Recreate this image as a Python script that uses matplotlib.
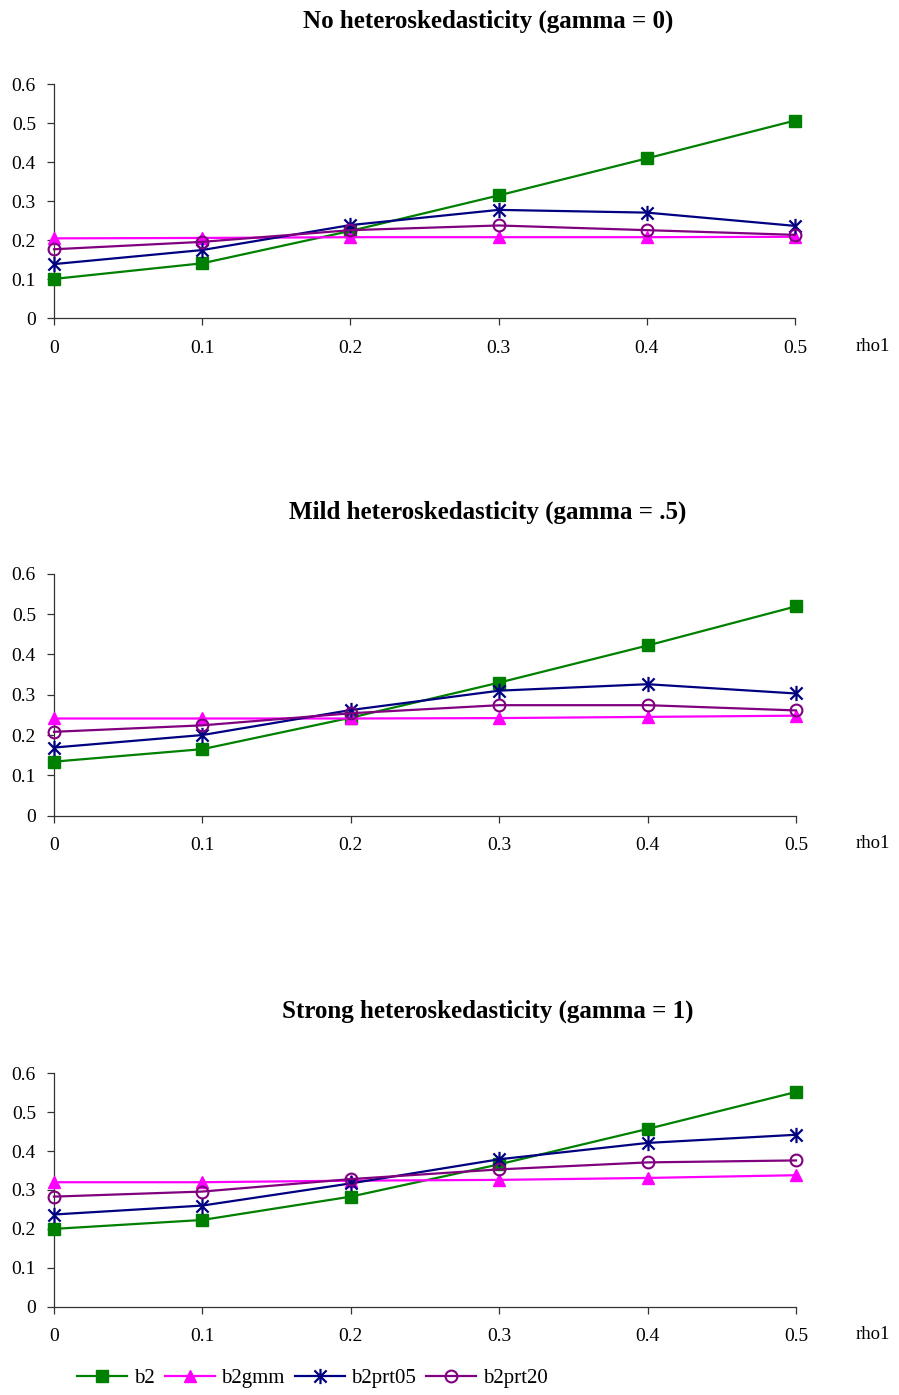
import matplotlib
matplotlib.use("Agg")
import matplotlib.pyplot as plt
from matplotlib.path import Path

plt.rcParams['font.family'] = ['Liberation Serif', 'DejaVu Serif']

rho1 = [0.0, 0.1, 0.2, 0.3, 0.4, 0.5]
x_ticks = [0, 0.1, 0.2, 0.3, 0.4, 0.5]
x_tick_labels = ['0', '0.1', '0.2', '0.3', '0.4', '0.5']
y_ticks = [0, 0.1, 0.2, 0.3, 0.4, 0.5, 0.6]
y_tick_labels = ['0', '0.1', '0.2', '0.3', '0.4', '0.5', '0.6']

titles = ['No heteroskedasticity (gamma = 0)',
          'Mild heteroskedasticity (gamma = .5)',
          'Strong heteroskedasticity (gamma = 1)']

series_names = ['b2', 'b2gmm', 'b2prt05', 'b2prt20']

# gamma = 0
b2_g0 = [0.101, 0.141, 0.224, 0.315, 0.410, 0.507]
b2gmm_g0 = [0.205, 0.206, 0.208, 0.208, 0.208, 0.209]
b2prt05_g0 = [0.139, 0.175, 0.239, 0.278, 0.271, 0.237]
b2prt20_g0 = [0.177, 0.196, 0.226, 0.238, 0.226, 0.214]

# gamma = .5
b2_g05 = [0.134, 0.165, 0.243, 0.330, 0.422, 0.519]
b2gmm_g05 = [0.241, 0.241, 0.241, 0.242, 0.245, 0.248]
b2prt05_g05 = [0.169, 0.200, 0.262, 0.310, 0.326, 0.303]
b2prt20_g05 = [0.208, 0.224, 0.254, 0.274, 0.274, 0.261]

# gamma = 1
b2_g1 = [0.200, 0.223, 0.283, 0.366, 0.457, 0.552]
b2gmm_g1 = [0.320, 0.320, 0.324, 0.326, 0.331, 0.338]
b2prt05_g1 = [0.237, 0.260, 0.317, 0.379, 0.421, 0.442]
b2prt20_g1 = [0.283, 0.296, 0.328, 0.353, 0.371, 0.376]

panels = [
    [b2_g0, b2gmm_g0, b2prt05_g0, b2prt20_g0],
    [b2_g05, b2gmm_g05, b2prt05_g05, b2prt20_g05],
    [b2_g1, b2gmm_g1, b2prt05_g1, b2prt20_g1],
]

# asterisk marker: vertical bar plus an X
star = Path([(0, -1), (0, 1), (-0.8, -0.8), (0.8, 0.8), (-0.8, 0.8), (0.8, -0.8)],
            [Path.MOVETO, Path.LINETO, Path.MOVETO, Path.LINETO, Path.MOVETO, Path.LINETO])

styles = [
    dict(color='#008000', marker='s', markersize=8.5, mfc='#008000', mec='#008000'),
    dict(color='#FF00FF', marker='^', markersize=9, mfc='#FF00FF', mec='#FF00FF'),
    dict(color='#000080', marker=star, markersize=11, mfc='none', mec='#000080', mew=1.6),
    dict(color='#800080', marker='o', markersize=8.5, mfc='none', mec='#800080', mew=1.5),
]

W, H = 899, 1395
fig = plt.figure(figsize=(W / 100, H / 100), dpi=100)

# pixel geometry of each panel: (left, right, y of 0, y of 0.6)
geom = [(54, 795, 318.3, 84.3), (54, 796, 815.7, 573.7), (54, 796, 1306.7, 1073.3)]
title_y = [21, 512, 1011]

for i, (series, (l, r, yb, yt)) in enumerate(zip(panels, geom)):
    ax = fig.add_axes([l / W, 1 - yb / H, (r - l) / W, (yb - yt) / H])
    for name, vals, st in zip(series_names, series, styles):
        ax.plot(rho1, vals, label=name, lw=1.6, clip_on=False, zorder=3, **st)
    ax.set_xlim(0, 0.5)
    ax.set_ylim(0, 0.6)
    ax.set_xticks(x_ticks)
    ax.set_xticklabels(x_tick_labels)
    ax.set_yticks(y_ticks)
    ax.set_yticklabels(y_tick_labels)
    for s in ('top', 'right'):
        ax.spines[s].set_visible(False)
    for s in ('left', 'bottom'):
        ax.spines[s].set_color('#333333')
        ax.spines[s].set_linewidth(0.9)
    ax.tick_params(axis='x', direction='out', length=5, width=0.9, pad=10.5,
                   labelsize=14, color='#333333')
    ax.tick_params(axis='y', direction='out', length=5, width=0.9, pad=8,
                   labelsize=14, color='#333333')
    fig.text(873 / W, 1 - (yb + 28) / H, 'rho1', fontsize=13.5, ha='center', va='center')
    fig.text(488 / W, 1 - title_y[i] / H, titles[i], fontsize=18,
             fontweight='bold', ha='center', va='center')
    if i == 2:
        handles, labels = ax.get_legend_handles_labels()

fig.legend(handles, labels, loc='center left', bbox_to_anchor=(69 / W, 1 - 1378 / H),
           ncol=4, frameon=False, fontsize=15, handlelength=2.4, handletextpad=0.3,
           columnspacing=0.5, borderaxespad=0)

fig.savefig('out.png', dpi=100)
